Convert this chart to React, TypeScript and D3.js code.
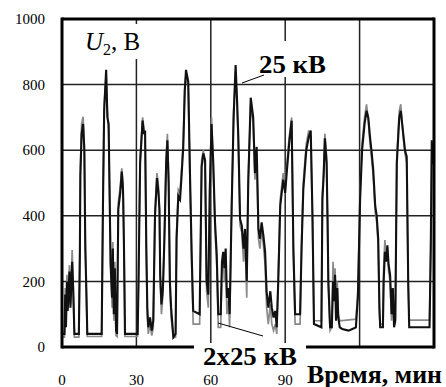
import React from "react";
import * as d3 from "d3";

const W = 446;
const H = 387;

// Black series: "25 кВ" (time in minutes, U2 in volts)
const black25: [number, number][] = [
  [0, 40], [1.0, 40], [1.3, 160], [1.6, 60], [2.0, 200], [2.3, 110], [3.0, 230], [3.4, 120], [4.1, 260], [4.5, 180], [5.0, 40],
  [6.8, 40], [7.2, 280], [7.4, 520], [7.9, 650], [8.5, 680], [9.0, 600], [9.4, 300], [9.8, 180], [10.2, 40],
  [16.0, 40], [16.5, 420], [17.0, 720], [17.8, 845], [18.3, 700], [18.8, 680], [19.3, 410], [19.6, 250], [20.2, 150], [20.5, 300], [20.9, 100], [21.3, 240], [21.8, 50], [22.2, 40],
  [22.7, 420], [23.5, 470], [24.1, 535], [24.6, 480], [25.0, 300], [25.4, 40],
  [30.5, 40], [30.9, 220], [31.5, 560], [32.5, 690], [33.0, 650], [33.5, 660], [34.0, 300], [34.4, 120], [34.8, 60], [35.5, 90], [36.2, 50], [36.8, 80],
  [37.5, 400], [38.3, 515], [38.9, 470], [39.3, 420], [39.6, 220], [40.1, 130], [40.7, 180], [41.3, 330], [42.0, 560], [42.5, 630], [43.0, 500], [43.5, 200], [44.0, 120], [44.9, 30],
  [45.8, 40], [46.2, 330], [46.9, 460], [47.6, 450], [48.2, 520], [48.9, 610], [49.5, 780], [50.0, 845], [50.9, 810], [51.6, 530], [52.3, 280], [52.9, 110],
  [55.5, 100], [56.3, 550], [57.0, 590], [57.7, 570], [58.3, 200], [59.0, 160], [59.6, 480], [60.3, 680], [61.0, 560], [61.7, 380], [62.4, 280], [63.0, 100],
  [64.0, 100], [64.5, 260], [65.0, 290], [65.5, 240], [66.0, 300], [66.5, 150], [67.1, 180], [67.6, 100],
  [68.4, 420], [69.2, 700], [70.0, 860], [70.6, 750], [71.1, 640], [71.8, 390], [72.5, 370], [73.2, 300], [73.8, 360], [74.5, 200],
  [75.1, 500], [76.1, 760], [77.1, 700], [77.8, 530], [78.5, 610], [79.2, 360], [79.8, 330], [80.5, 380], [81.2, 340], [81.9, 290], [82.5, 170],
  [83.2, 120], [84.0, 170], [84.6, 120], [85.3, 90], [86.0, 110], [86.6, 60],
  [87.2, 200], [88.0, 430], [89.2, 510], [90.0, 470], [90.6, 530], [91.6, 620], [92.6, 690], [93.3, 300], [94.0, 100],
  [96.0, 100], [96.6, 300], [97.3, 480], [98.5, 600], [99.5, 640], [100.3, 660], [101.0, 400], [101.6, 70],
  [104.6, 60], [105.0, 450], [105.5, 520], [106.0, 636], [106.7, 560], [107.1, 380], [107.4, 200], [108.1, 60],
  [108.8, 60], [109.3, 200], [109.7, 140], [110.1, 220], [110.5, 80], [111.0, 180], [111.4, 90], [112.0, 60],
  [113.0, 55], [115.5, 50], [118.0, 58], [118.5, 60],
  [119.3, 150], [120.2, 450], [121.0, 600], [122.0, 680], [122.8, 720], [123.5, 700], [124.2, 640], [124.9, 590], [125.5, 540], [126.3, 430], [126.9, 400], [127.5, 330], [128.0, 120], [128.3, 60],
  [129.4, 60], [129.7, 200], [130.2, 290], [130.7, 260], [131.2, 310], [131.7, 250], [132.3, 220], [132.9, 100], [133.4, 180], [133.9, 60], [134.4, 80],
  [135.0, 560], [136.0, 700], [136.6, 720], [137.6, 650], [138.3, 600], [139.0, 580], [139.6, 200], [140.0, 60],
  [148.2, 60], [148.7, 300], [149.1, 630], [149.5, 560], [150, 560],
];

// Gray series: "2x25 кВ"
const gray2x25: [number, number][] = [
  [0, 30], [1.0, 30], [1.3, 180], [1.6, 70], [2.0, 220], [2.3, 120], [3.0, 250], [3.4, 130], [4.1, 296], [4.5, 190], [5.0, 30],
  [6.8, 30], [7.2, 300], [7.4, 540], [7.9, 680], [8.5, 702], [9.0, 620], [9.4, 320], [9.8, 160], [10.2, 32],
  [16.0, 32], [16.5, 440], [17.0, 740], [17.8, 830], [18.3, 720], [18.8, 660], [19.3, 430], [19.6, 260], [20.2, 120], [20.5, 320], [20.9, 80], [21.3, 260], [21.8, 35], [22.2, 32],
  [22.7, 440], [23.5, 490], [24.1, 545], [24.6, 500], [25.0, 320], [25.4, 32],
  [30.5, 32], [30.9, 240], [31.5, 580], [32.5, 700], [33.0, 670], [33.5, 640], [34.0, 280], [34.4, 90], [34.8, 40], [35.5, 70], [36.2, 35], [36.8, 60],
  [37.5, 420], [38.3, 530], [38.9, 490], [39.3, 400], [39.6, 200], [40.1, 100], [40.7, 160], [41.3, 350], [42.0, 580], [42.5, 650], [43.0, 520], [43.5, 180], [44.0, 90], [44.9, 28],
  [45.8, 30], [46.2, 350], [46.9, 480], [47.6, 470], [48.2, 540], [48.9, 630], [49.5, 790], [50.0, 830], [50.9, 790], [51.6, 510], [52.3, 250], [52.9, 70],
  [55.5, 70], [56.3, 570], [57.0, 600], [57.7, 550], [58.3, 170], [59.0, 120], [59.6, 500], [60.3, 700], [61.0, 540], [61.7, 360], [62.4, 250], [63.0, 60],
  [64.0, 60], [64.5, 240], [65.0, 270], [65.5, 200], [66.0, 270], [66.5, 100], [67.1, 140], [67.6, 60],
  [68.4, 440], [69.2, 720], [70.0, 840], [70.6, 730], [71.1, 620], [71.8, 370], [72.5, 350], [73.2, 260], [73.8, 330], [74.5, 150],
  [75.1, 520], [76.1, 740], [77.1, 680], [77.8, 510], [78.5, 590], [79.2, 330], [79.8, 300], [80.5, 360], [81.2, 310], [81.9, 250], [82.5, 120],
  [83.2, 70], [84.0, 130], [84.6, 70], [85.3, 50], [86.0, 70], [86.6, 40],
  [87.2, 220], [88.0, 450], [89.2, 530], [90.0, 490], [90.6, 550], [91.6, 640], [92.6, 700], [93.3, 280], [94.0, 70],
  [96.0, 70], [96.6, 320], [97.3, 500], [98.5, 620], [99.5, 660], [100.3, 640], [101.0, 380], [101.6, 80],
  [104.6, 80], [105.0, 470], [105.5, 540], [106.0, 650], [106.7, 580], [107.1, 360], [107.4, 180], [108.1, 50],
  [108.8, 60], [109.3, 260], [109.7, 160], [110.1, 240], [110.5, 100], [111.0, 200], [111.4, 100], [112.0, 80],
  [118.5, 85],
  [119.3, 170], [120.2, 470], [121.0, 620], [122.0, 700], [122.8, 740], [123.5, 690], [124.2, 620], [124.9, 570], [125.5, 520], [126.3, 410], [126.9, 380], [127.5, 310], [128.0, 100], [128.3, 70],
  [129.4, 70], [129.7, 240], [130.2, 326], [130.7, 280], [131.2, 300], [131.7, 230], [132.3, 200], [132.9, 80], [133.4, 160], [133.9, 70], [134.4, 90],
  [135.0, 580], [136.0, 720], [136.6, 740], [137.6, 640], [138.3, 590], [139.0, 560], [139.6, 180], [140.0, 82],
  [148.2, 82], [148.7, 320], [149.1, 600], [149.5, 580], [150, 580],
];

const xTicks = [0, 30, 60, 90];
const xGrid = [30, 60, 90, 120];
const yTicks = [0, 200, 400, 600, 800, 1000];
const yGrid = [200, 400, 600, 800];

export default function App() {
  const x = d3.scaleLinear().domain([0, 150]).range([62, 434]);
  const y = d3.scaleLinear().domain([0, 1000]).range([347, 19]);
  const line = d3
    .line<[number, number]>()
    .x((d) => x(d[0]))
    .y((d) => y(d[1]));
  const font = "'Liberation Serif', 'Times New Roman', serif";

  return (
    <svg
      width={W}
      height={H}
      style={{ position: "absolute", left: 0, top: 0, background: "#fff" }}
      fontFamily={font}
    >
      <rect x={0} y={0} width={W} height={H} fill="#fff" />
      {/* grid */}
      {xGrid.map((t) => (
        <line key={"gx" + t} x1={x(t)} x2={x(t)} y1={y(1000)} y2={y(0)} stroke="#222" strokeWidth={1.5} />
      ))}
      {yGrid.map((v) => (
        <line key={"gy" + v} x1={x(0)} x2={x(150)} y1={y(v)} y2={y(v)} stroke="#222" strokeWidth={1.5} />
      ))}
      {/* series */}
      <path d={line(gray2x25) || ""} fill="none" stroke="#8a8a8a" strokeWidth={1.7} strokeLinejoin="miter" />
      <path d={line(black25) || ""} fill="none" stroke="#111" strokeWidth={2.1} strokeLinejoin="miter" />
      {/* frame */}
      <line x1={x(0)} x2={x(0)} y1={y(1000) - 1.5} y2={y(0) + 1.5} stroke="#000" strokeWidth={3} />
      <line x1={x(150)} x2={x(150)} y1={y(1000) - 1.5} y2={y(0) + 1.5} stroke="#000" strokeWidth={3} />
      <line x1={x(0)} x2={x(150)} y1={y(1000)} y2={y(1000)} stroke="#000" strokeWidth={3} />
      <line x1={x(0)} x2={x(150)} y1={y(0)} y2={y(0)} stroke="#000" strokeWidth={3} />
      {/* label backgrounds */}
      <rect x={80} y={24} width={70} height={35} fill="#fff" />
      <rect x={256} y={41} width={76} height={36} fill="#fff" />
      <rect x={194} y={343} width={112} height={26} fill="#fff" />
      {/* leader lines */}
      <line x1={242} y1={83} x2={264} y2={75} stroke="#000" strokeWidth={1} />
      <line x1={218} y1={323} x2={263} y2={336} stroke="#000" strokeWidth={1} />
      {/* y tick labels */}
      {yTicks.map((v) => (
        <text key={"yt" + v} x={45} y={y(v)} dy="0.35em" textAnchor="end" fontSize={15} fill="#000">
          {v}
        </text>
      ))}
      {/* x tick labels */}
      {xTicks.map((t) => (
        <text key={"xt" + t} x={x(t)} y={385} textAnchor="middle" fontSize={15} fill="#000">
          {t}
        </text>
      ))}
      <text x={307} y={383} fontSize={25} fontWeight="bold" fill="#000" textLength={135} lengthAdjust="spacingAndGlyphs">
        Время, мин
      </text>
      {/* series labels */}
      <text x={259} y={73} fontSize={25} fontWeight="bold" fill="#000" textLength={67} lengthAdjust="spacingAndGlyphs">
        25 кВ
      </text>
      <text x={203} y={365} fontSize={25} fontWeight="bold" fill="#000" textLength={94} lengthAdjust="spacingAndGlyphs">
        2x25 кВ
      </text>
      <text x={85} y={50} fontSize={25} fill="#000">
        <tspan fontStyle="italic">U</tspan>
        <tspan fontSize={16} dy={5}>2</tspan>
        <tspan dy={-5}>, B</tspan>
      </text>
    </svg>
  );
}
